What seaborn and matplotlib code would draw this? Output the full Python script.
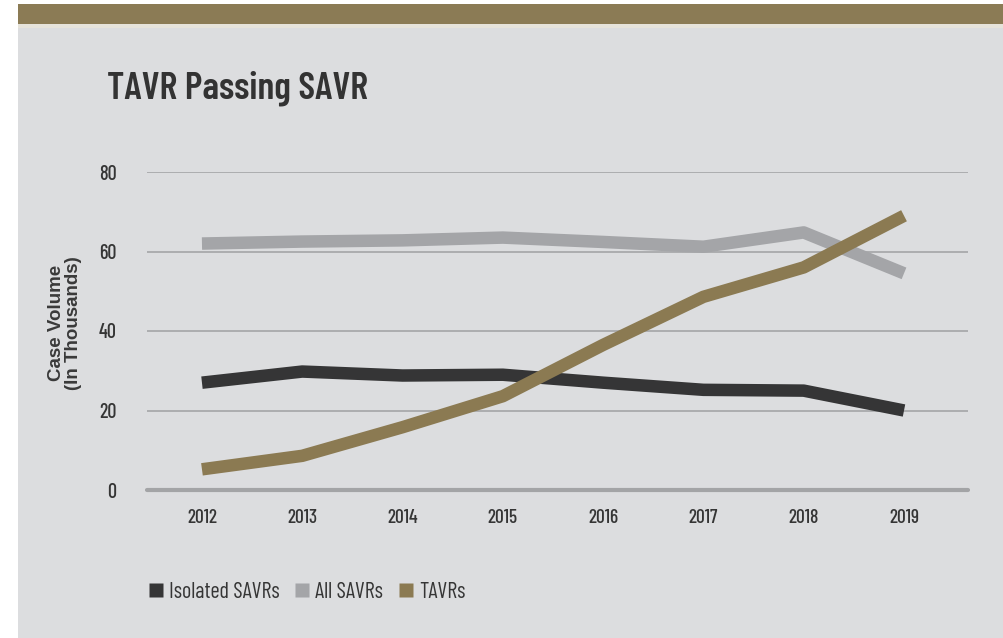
import matplotlib
matplotlib.use("Agg")
import matplotlib.pyplot as plt
from matplotlib.lines import Line2D
from matplotlib.patches import Rectangle
import seaborn as sns
import pandas as pd

# Case volumes in thousands
years = [2012, 2013, 2014, 2015, 2016, 2017, 2018, 2019]
isolated_savrs = [27.0, 29.8, 28.8, 29.0, 27.0, 25.2, 25.0, 20.0]
all_savrs = [62.0, 62.5, 62.8, 63.5, 62.4, 61.2, 64.8, 54.5]
tavrs = [5.2, 8.6, 15.8, 23.6, 36.5, 48.6, 56.0, 69.0]

series_names = ["Isolated SAVRs", "All SAVRs", "TAVRs"]
y_ticks = [0, 20, 40, 60, 80]

colors = {"Isolated SAVRs": "#353536", "All SAVRs": "#a4a5a8", "TAVRs": "#8b7a52"}
panel_bg = "#dcdddf"
band_color = "#8b7b55"
text_color = "#353535"

df = pd.DataFrame({
    "year": years * 3,
    "value": isolated_savrs + all_savrs + tavrs,
    "series": [s for s in series_names for _ in years],
})

sns.set_theme(style="white")
cond = ["Barlow Condensed", "DejaVu Sans"]
plt.rcParams["font.family"] = cond

W, H = 1004, 638
fig = plt.figure(figsize=(W / 100, H / 100), dpi=100)
fig.patch.set_facecolor("white")

# grey panel and the brown header band
fig.patches.append(Rectangle((18 / W, 0), 1 - 18 / W, 1 - 24 / H,
                             transform=fig.transFigure, facecolor=panel_bg,
                             edgecolor="none", zorder=-3))
fig.patches.append(Rectangle((18 / W, 1 - 28 / H), 1 - 18 / W, 4 / H,
                             transform=fig.transFigure, facecolor="#e6e3da",
                             edgecolor="none", zorder=-2))
fig.patches.append(Rectangle((18 / W, 1 - 24 / H), 1 - 18 / W, 20 / H,
                             transform=fig.transFigure, facecolor=band_color,
                             edgecolor="none", zorder=-2))

ax_left, ax_right = 147, 968
ax_top, ax_bottom = 172, 490
ax = fig.add_axes([ax_left / W, 1 - ax_bottom / H,
                   (ax_right - ax_left) / W, (ax_bottom - ax_top) / H])
ax.set_facecolor("none")

sns.lineplot(data=df, x="year", y="value", hue="series", palette=colors,
             hue_order=series_names, linewidth=9, ax=ax, legend=False,
             zorder=3)
for ln in ax.lines:
    ln.set_solid_capstyle("butt")
    ln.set_solid_joinstyle("round")
    ln.set_clip_on(False)

ax.set_xlim(2011.452, 2019.638)
ax.set_ylim(0, 80)
ax.set_yticks(y_ticks)
ax.set_xticks(years)
ax.set_xticklabels([str(y) for y in years])
for y in y_ticks[1:]:
    ax.axhline(y, color="#a9aaac", linewidth=1.3, zorder=1)
ax.axhline(0, color="#a3a4a6", linewidth=3, zorder=2, clip_on=False)

for side in ["top", "right", "left", "bottom"]:
    ax.spines[side].set_visible(False)
ax.tick_params(axis="y", length=0, pad=22, labelsize=14.5, labelcolor=text_color)
ax.tick_params(axis="x", length=7, width=1, color="#a3a4a6", pad=7,
               labelsize=14, labelcolor=text_color, direction="out")
for lab in ax.get_xticklabels() + ax.get_yticklabels():
    lab.set_fontweight(500)
ax.set_xlabel("")
ax.set_ylabel("")

fig.text(65 / W, 1 - 323 / H, "Case Volume\n(In Thousands)", rotation=90,
         ha="center", va="center", fontsize=13.5, fontweight="bold",
         color="#3a3a3a", family=["Liberation Sans", "DejaVu Sans"],
         linespacing=1.05)

fig.text(107 / W, 1 - 88 / H, "TAVR Passing SAVR", ha="left", va="center",
         fontsize=27.5, fontweight=600, color="#333333")

handles = [Line2D([], [], marker="s", linestyle="none", markersize=10,
                  markerfacecolor=colors[s], markeredgecolor="none")
           for s in series_names]
leg = fig.legend(handles, series_names, loc="center left",
                 bbox_to_anchor=(147 / W, 1 - 592 / H), ncol=3, frameon=False,
                 borderpad=0, borderaxespad=0,
                 handlelength=0.8, handletextpad=0.2, columnspacing=0.6,
                 fontsize=16)
for t in leg.get_texts():
    t.set_color(text_color)

fig.savefig("out.png", dpi=100, facecolor=fig.get_facecolor())
